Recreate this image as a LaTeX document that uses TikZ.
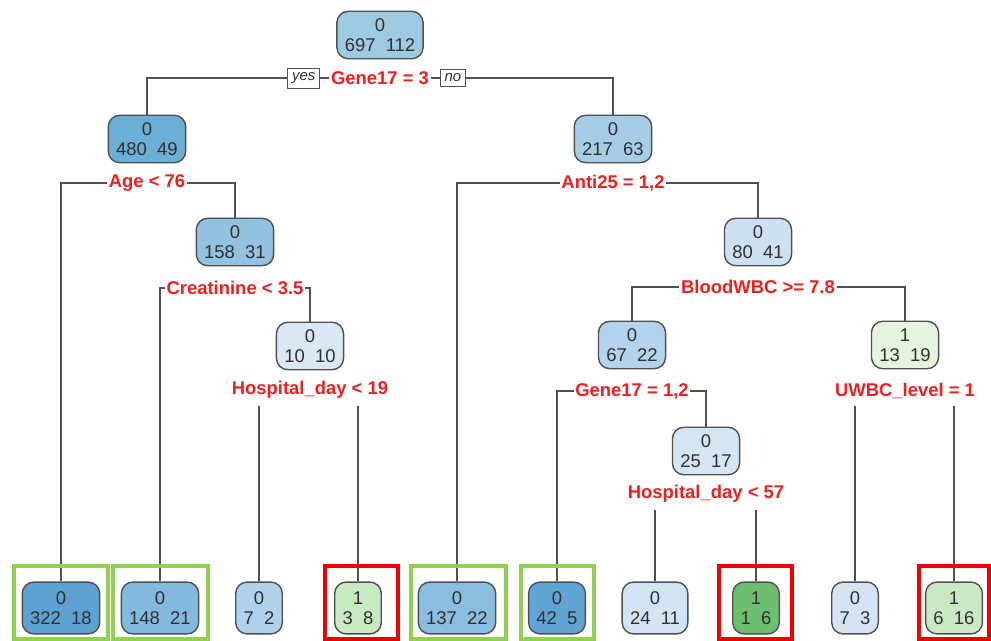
\documentclass[tikz,border=0pt]{standalone}
\usepackage{fontspec}
\setmainfont{Liberation Sans}
\usepackage{xcolor}
\usetikzlibrary{positioning,backgrounds}

\definecolor{linegray}{HTML}{505050}
\definecolor{txtgray}{HTML}{303030}
\definecolor{splitred}{HTML}{F21E1E}
\definecolor{okgreen}{HTML}{92D050}
\definecolor{badred}{HTML}{F00000}
\definecolor{cA}{HTML}{9ECAE1}
\definecolor{cB}{HTML}{6BAED6}
\definecolor{cC}{HTML}{A6CCE6}
\definecolor{cD}{HTML}{92C2E0}
\definecolor{cE}{HTML}{DAE8F5}
\definecolor{cF}{HTML}{CCE0F2}
\definecolor{cG}{HTML}{B3D2EC}
\definecolor{cH}{HTML}{D4E5F4}
\definecolor{cI}{HTML}{E5F4DF}
\definecolor{lA}{HTML}{5DA1D2}
\definecolor{lB}{HTML}{84B9DF}
\definecolor{lC}{HTML}{AFD1EB}
\definecolor{lD}{HTML}{C7E9C0}
\definecolor{lE}{HTML}{8ABDE0}
\definecolor{lF}{HTML}{60A4D3}
\definecolor{lG}{HTML}{D2E4F3}
\definecolor{lH}{HTML}{6DBF6F}
\definecolor{lI}{HTML}{D3E3F3}
\definecolor{lJ}{HTML}{C9E9C2}

\tikzset{
  tnode/.style={draw=linegray, line width=0.8pt, rounded corners=6.5pt, align=center,
    inner xsep=4.5pt, minimum height=27pt, text=txtgray,
    font=\fontsize{10.5}{11.5}\selectfont},
  leaf/.style={tnode, minimum height=29.5pt},
  split/.style={text=splitred, fill=white, inner sep=1pt,
    font=\bfseries\fontsize{10.5}{12}\selectfont},
  yesno/.style={draw=linegray, fill=white, inner xsep=2.5pt, inner ysep=2.5pt, text=txtgray,
    font=\itshape\fontsize{8.5}{9}\selectfont},
  edge/.style={draw=linegray, line width=0.7pt},
  okbox/.style={draw=okgreen, line width=2.3pt},
  badbox/.style={draw=badred, line width=2.3pt},
}

\begin{document}
\begin{tikzpicture}[x=0.02cm, y=-0.02cm]
		\useasboundingbox (0,0) rectangle (991,641);
		% 内部结点与划分条件
		\node[tnode, fill=cA] (n1) at (380,35) {0\\697~~112};
		\node[split] (s1) at (380,78) {Gene17 = 3};
		\node[yesno, left=5pt of s1] (yes) {yes};
		\node[yesno, right=5pt of s1] (no) {no};
		\node[tnode, fill=cB] (n2) at (147,139) {0\\480~~49};
		\node[split] (s2) at (147,183) {Age < 76};
		\node[tnode, fill=cC] (n3) at (613,139) {0\\217~~63};
		\node[split] (s3) at (613,183) {Anti25 = 1,2};
		\node[tnode, fill=cD] (n5) at (235,242) {0\\158~~31};
		\node[split] (s5) at (235,288) {Creatinine < 3.5};
		\node[tnode, fill=cE] (n11) at (310,346) {0\\10~~10};
		\node[split] (s11) at (310,390) {Hospital\_day < 19};
		\node[tnode, fill=cF] (n7) at (758,242) {0\\80~~41};
		\node[split] (s7) at (758,287) {BloodWBC >= 7.8};
		\node[tnode, fill=cG] (n14) at (632,345) {0\\67~~22};
		\node[split] (s14) at (632,391) {Gene17 = 1,2};
		\node[tnode, fill=cI] (n15) at (905,345) {1\\13~~19};
		\node[split] (s15) at (905,391) {UWBC\_level = 1};
		\node[tnode, fill=cH] (n29) at (706,451) {0\\25~~17};
		\node[split] (s29) at (706,494) {Hospital\_day < 57};
		% 叶结点
		\node[leaf, fill=lA] (l4) at (61,608) {0\\322~~18};
		\node[leaf, fill=lB] (l10) at (160,608) {0\\148~~21};
		\node[leaf, fill=lC] (l22) at (259,608) {0\\7~~2};
		\node[leaf, fill=lD] (l23) at (358,608) {1\\3~~8};
		\node[leaf, fill=lE] (l6) at (457,608) {0\\137~~22};
		\node[leaf, fill=lF] (l28) at (557,608) {0\\42~~5};
		\node[leaf, fill=lG] (l58) at (655,608) {0\\24~~11};
		\node[leaf, fill=lH] (l59) at (756,608) {1\\1~~6};
		\node[leaf, fill=lI] (l30) at (855,608) {0\\7~~3};
		\node[leaf, fill=lJ] (l31) at (954,608) {1\\6~~16};
		% 连线
		\begin{scope}[on background layer]
			\draw[edge] (n2.north) |- (s1.center) -| (n3.north);
			\draw[edge] (l4.north) |- (s2.center) -| (n5.north);
			\draw[edge] (l6.north) |- (s3.center) -| (n7.north);
			\draw[edge] (l10.north) |- (s5.center) -| (n11.north);
			\draw[edge] (n14.north) |- (s7.center) -| (n15.north);
			\draw[edge] (l28.north) |- (s14.center) -| (n29.north);
			\draw[edge] ([yshift=-3pt]l22.north |- s11.south) -- (l22.north);
			\draw[edge] ([yshift=-3pt]l23.north |- s11.south) -- (l23.north);
			\draw[edge] ([yshift=-3pt]l30.north |- s15.south) -- (l30.north);
			\draw[edge] ([yshift=-3pt]l31.north |- s15.south) -- (l31.north);
			\draw[edge] ([yshift=-3pt]l58.north |- s29.south) -- (l58.north);
			\draw[edge] ([yshift=-3pt]l59.north |- s29.south) -- (l59.north);
		\end{scope}
		% 标记框
		\draw[okbox] (14,566) rectangle (108,639);
		\draw[okbox] (113,566) rectangle (208,639);
		\draw[okbox] (411,566) rectangle (506,639);
		\draw[okbox] (521,566) rectangle (594,639);
		\draw[badbox] (325,566) rectangle (398,639);
		\draw[badbox] (719,566) rectangle (792,639);
		\draw[badbox] (919,566) rectangle (989,639);
	\end{tikzpicture}
\end{document}
